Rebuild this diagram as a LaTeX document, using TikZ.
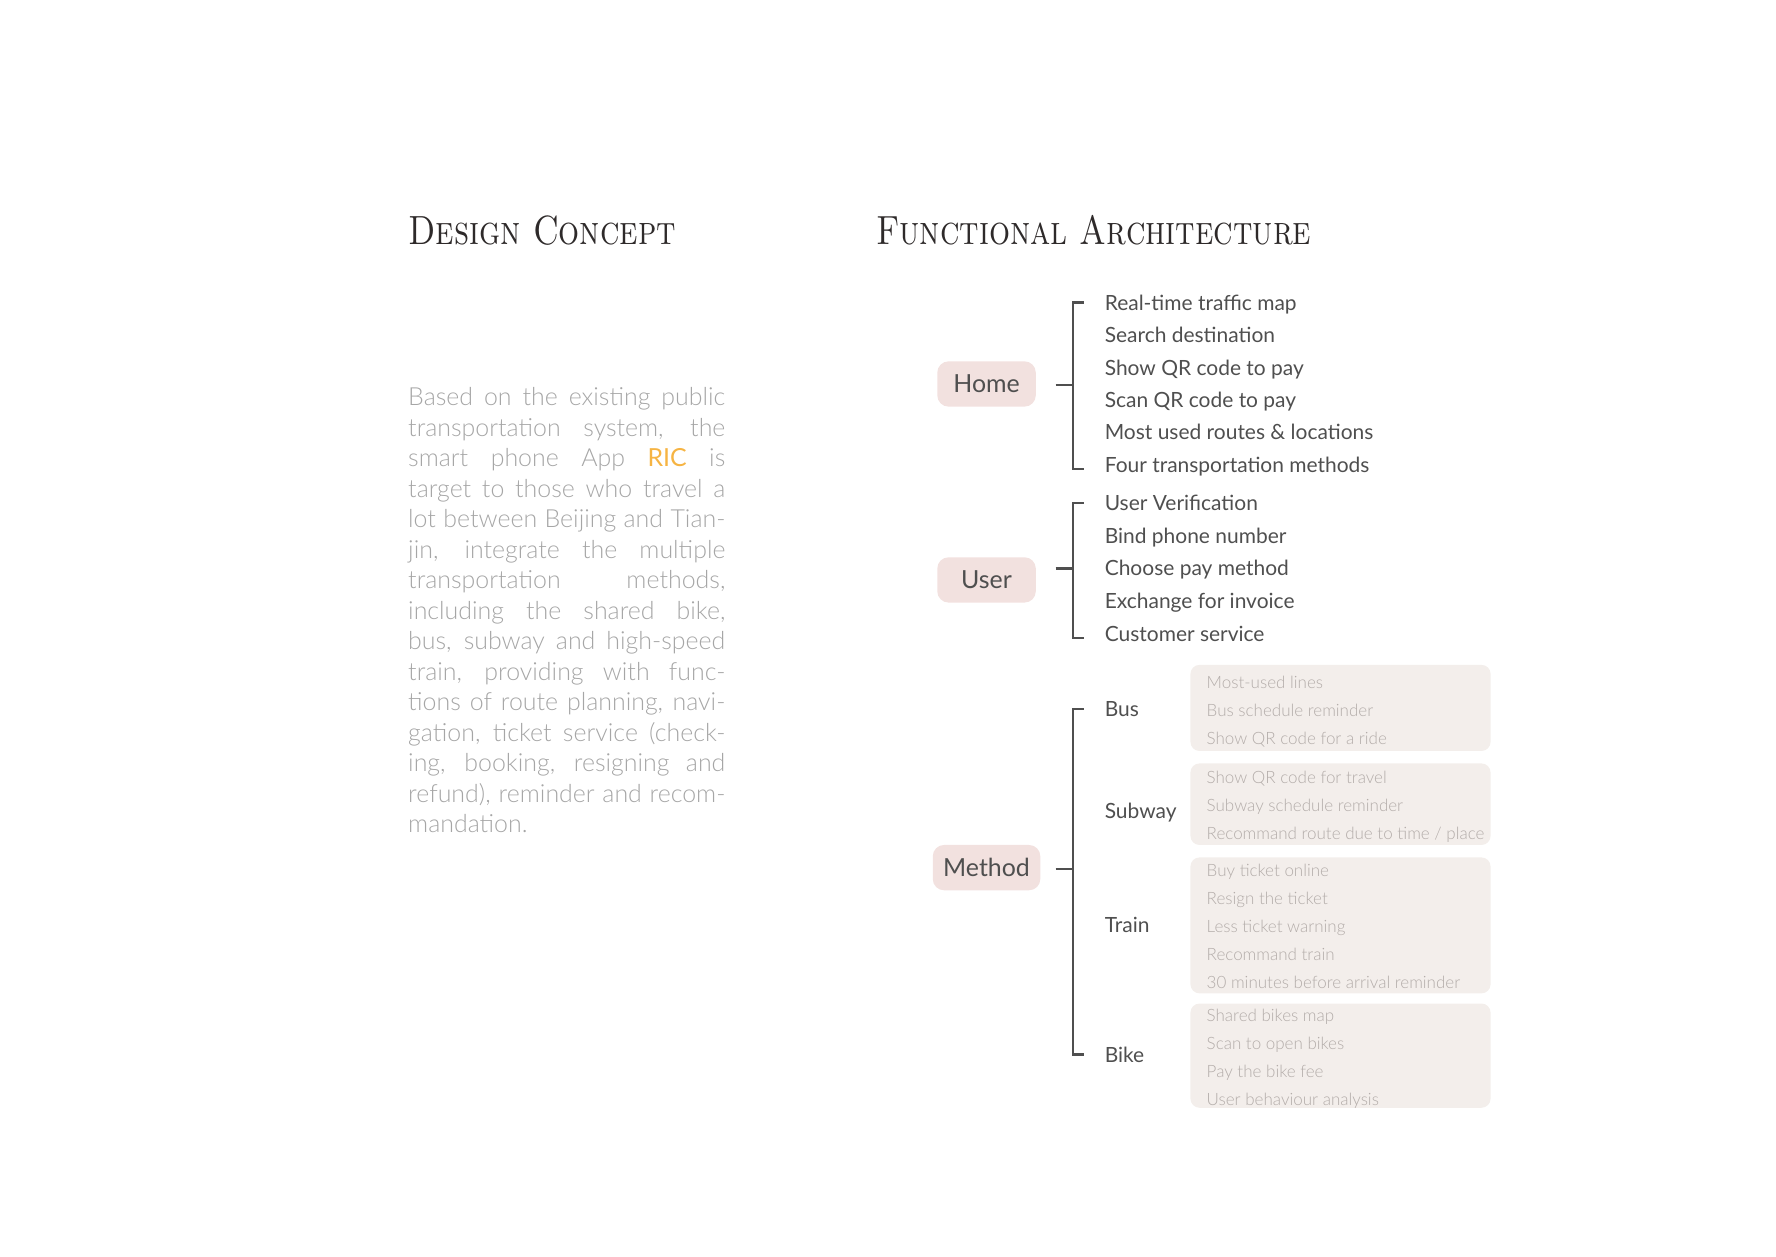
\documentclass[tikz,border=0pt]{standalone}
\usepackage{fontspec}
\usepackage{graphicx}
\newfontfamily\lato{Lato}
\newfontfamily\latolight{Lato Light}
\definecolor{ink}{HTML}{4F4F4F}
\definecolor{headink}{HTML}{2E2A2A}
\definecolor{paragray}{HTML}{A6A6A6}
\definecolor{subgray}{HTML}{B3ACA9}
\definecolor{ricorange}{HTML}{F6B443}
\definecolor{pillpink}{HTML}{F2E1DF}
\definecolor{boxbeige}{HTML}{F3EEEB}
\tikzset{
  heading/.style={anchor=base west, inner sep=0pt, text=headink, font=\rmfamily\scshape\fontsize{18}{20}\selectfont},
  para/.style={anchor=north west, inner sep=0pt, text width=140pt, align=justify, text=paragray, font=\latolight\fontsize{11}{13.45}\selectfont},
  pill/.style={fill=pillpink, rounded corners=5pt, minimum height=20pt, inner sep=0pt, text=ink, font=\lato\fontsize{11}{13}\selectfont},
  item/.style={anchor=west, inner sep=0pt, text height=0.72em, text depth=0.22em, text=ink, font=\lato\fontsize{9.25}{11}\selectfont},
  subbox/.style={fill=boxbeige, rounded corners=4pt, minimum width=132.5pt, inner sep=0pt},
  subitem/.style={anchor=west, inner sep=0pt, text height=0.72em, text depth=0.22em, text=subgray, font=\latolight\fontsize{7.5}{9}\selectfont},
  brk/.style={draw=ink, line width=1pt}
}
\begin{document}
\begin{tikzpicture}[x=0.5pt, y=-0.5pt]
\useasboundingbox (0,0) rectangle (1568,1109);
\node[heading] (concepttitle) at (360,216) {\scalebox{0.81}[1]{Design Concept}};
\node[heading] (archtitle) at (773,216) {\scalebox{0.81}[1]{Functional Architecture}};
\node[para] (concept) at (360,342) {\hyphenpenalty=10000\exhyphenpenalty=10000
Based on the existing public\linebreak
transportation system, the\linebreak
smart phone App {\lato\color{ricorange}RIC} is\linebreak
target to those who travel a\linebreak
lot between Beijing and Tian-\linebreak
jin, integrate the multiple\linebreak
transportation methods,\linebreak
including the shared bike,\linebreak
bus, subway and high-speed\linebreak
train, providing with func-\linebreak
tions of route planning, navi-\linebreak
gation, ticket service (check-\linebreak
ing, booking, resigning and\linebreak
refund), reminder and recom-\linebreak
mandation.};

\node[pill, minimum width=43.5pt] (home) at (871,339) {Home};
\node[pill, minimum width=43.5pt] (user) at (871,512) {User};
\node[pill, minimum width=47.5pt] (method) at (871,766) {Method};

\foreach \t [count=\i] in {Real-time traffic map, Search destination, Show QR code to pay, Scan QR code to pay, Most used routes \& locations, Four transportation methods}
  \node[item] (home\i) at (975,{269+28.6*(\i-1)}) {\t};
\foreach \t [count=\i] in {User Verification, Bind phone number, Choose pay method, Exchange for invoice, Customer service}
  \node[item] (user\i) at (975,{446+28.75*(\i-1)}) {\t};

\node[item] (bus) at (975,628) {Bus};
\node[item] (subway) at (975,718) {Subway};
\node[item] (train) at (975,818) {Train};
\node[item] (bike) at (975,933) {Bike};

\node[subbox, minimum height=38pt] (busbox) at (1183.5,625) {};
\node[subbox, minimum height=36pt] (subwaybox) at (1183.5,710) {};
\node[subbox, minimum height=60pt] (trainbox) at (1183.5,817) {};
\node[subbox, minimum height=46pt] (bikebox) at (1183.5,932) {};

\foreach \t [count=\i] in {Most-used lines, Bus schedule reminder, Show QR code for a ride}
  \node[subitem] (bus\i) at (1065,{603+24.6*(\i-1)}) {\t};
\foreach \t [count=\i] in {Show QR code for travel, Subway schedule reminder, Recommand route due to time / place}
  \node[subitem] (subway\i) at (1065,{687+24.6*(\i-1)}) {\t};
\foreach \t [count=\i] in {Buy ticket online, Resign the ticket, Less ticket warning, Recommand train, 30 minutes before arrival reminder}
  \node[subitem] (train\i) at (1065,{769+24.7*(\i-1)}) {\t};
\foreach \t [count=\i] in {Shared bikes map, Scan to open bikes, Pay the bike fee, User behaviour analysis}
  \node[subitem] (bike\i) at (1065,{897+24.6*(\i-1)}) {\t};

\coordinate (homebar) at ([xshift=-14pt]home1.west);
\coordinate (userbar) at ([xshift=-14pt]user1.west);
\coordinate (methodbar) at ([xshift=-14pt]bus.west);
\coordinate (homestub) at (932,340);
\coordinate (userstub) at (932,502);
\coordinate (methodstub) at (932,767);

\draw[brk] ([xshift=-9pt,yshift=1pt]home1.west) -| ([xshift=-14pt,yshift=-1pt]home6.west) -- ([xshift=-9pt,yshift=-1pt]home6.west);
\draw[brk] ([xshift=-9pt,yshift=1pt]user1.west) -| ([xshift=-14pt,yshift=-1pt]user5.west) -- ([xshift=-9pt,yshift=-1pt]user5.west);
\draw[brk] ([xshift=-9pt,yshift=1pt]bus.west) -| ([xshift=-14pt,yshift=1pt]bike.west) -- ([xshift=-9pt,yshift=1pt]bike.west);
\draw[brk] (homestub) -- (homestub -| homebar);
\draw[brk] (userstub) -- (userstub -| userbar);
\draw[brk] (methodstub) -- (methodstub -| methodbar);
\end{tikzpicture}
\end{document}
